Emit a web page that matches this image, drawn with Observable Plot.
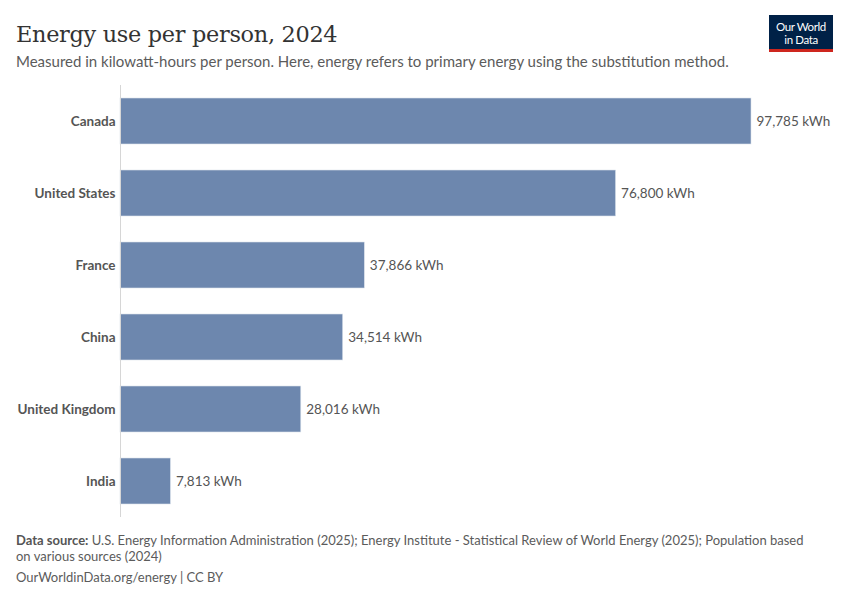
<!DOCTYPE html>
<html>
<head>
<meta charset="utf-8">
<script src="https://cdn.jsdelivr.net/npm/d3@7"></script>
<script src="https://cdn.jsdelivr.net/npm/@observablehq/plot@0.6"></script>
<style>
  html, body { margin: 0; padding: 0; background: #fff; }
  body { width: 850px; height: 600px; position: relative; overflow: hidden; font-family: Lato, sans-serif; }
  #title { position: absolute; left: 16px; top: 21px; font-family: "DejaVu Serif", serif; font-size: 22.4px; color: #333; letter-spacing: -0.3px; white-space: nowrap; }
  #subtitle { position: absolute; left: 16px; top: 52px; font-size: 15px; color: #5b5b5b; white-space: nowrap; }
  #logo { position: absolute; left: 769px; top: 15px; width: 64px; height: 37px; background: #002147; border-bottom: 3px solid #ce261e; box-sizing: border-box; }
  #logo div { position: absolute; left: 0; width: 64px; text-align: center; color: #fff; font-size: 11.5px; line-height: 11px; height: 11px; letter-spacing: -0.4px; white-space: nowrap; }
  #chart { position: absolute; left: 0; top: 80px; }
  .src { position: absolute; left: 16px; font-size: 13px; line-height: 16px; color: #5b5b5b; white-space: nowrap; }
  .src b { color: #555; }
</style>
</head>
<body>
<div id="title">Energy use per person, 2024</div>
<div id="subtitle">Measured in kilowatt-hours per person. Here, energy refers to primary energy using the substitution method.</div>
<div id="logo"><div style="top:6px">Our World</div><div style="top:19px">in Data</div></div>
<div id="chart"></div>
<div class="src" style="top:532px"><b>Data source:</b> U.S. Energy Information Administration (2025); Energy Institute - Statistical Review of World Energy (2025); Population based</div>
<div class="src" style="top:548px">on various sources (2024)</div>
<div class="src" style="top:569px">OurWorldinData.org/energy | CC BY</div>
<script>
const countries = ["Canada", "United States", "France", "China", "United Kingdom", "India"];
const values = [97785, 76800, 37866, 34514, 28016, 7813];
const data = countries.map((c, i) => ({country: c, value: values[i]}));
const fmt = d3.format(",");

const chart = Plot.plot({
  width: 850,
  height: 445,
  marginLeft: 120,
  marginRight: 99,
  marginTop: 5,
  marginBottom: 8,
  style: {fontFamily: "Lato, sans-serif", fontSize: "13.5px", color: "#555"},
  x: {domain: [0, 97785], axis: null},
  y: {domain: countries, paddingInner: 0.36, paddingOuter: 0.18, label: null},
  marks: [
    Plot.barX(data, {y: "country", x: "value", fill: "#6d87ae", stroke: "#dde3ec", strokeWidth: 0.6}),
    Plot.ruleX([0], {stroke: "#d6d6d6", strokeWidth: 1}),
    Plot.axisY({tickSize: 0, tickPadding: 5, fontWeight: "bold", fill: "#555", fontSize: 13.5, label: null}),
    Plot.text(data, {y: "country", x: "value", text: d => fmt(d.value) + " kWh", textAnchor: "start", dx: 5, fill: "#555", fontSize: 13.5})
  ]
});
document.getElementById("chart").appendChild(chart);
</script>
</body>
</html>
